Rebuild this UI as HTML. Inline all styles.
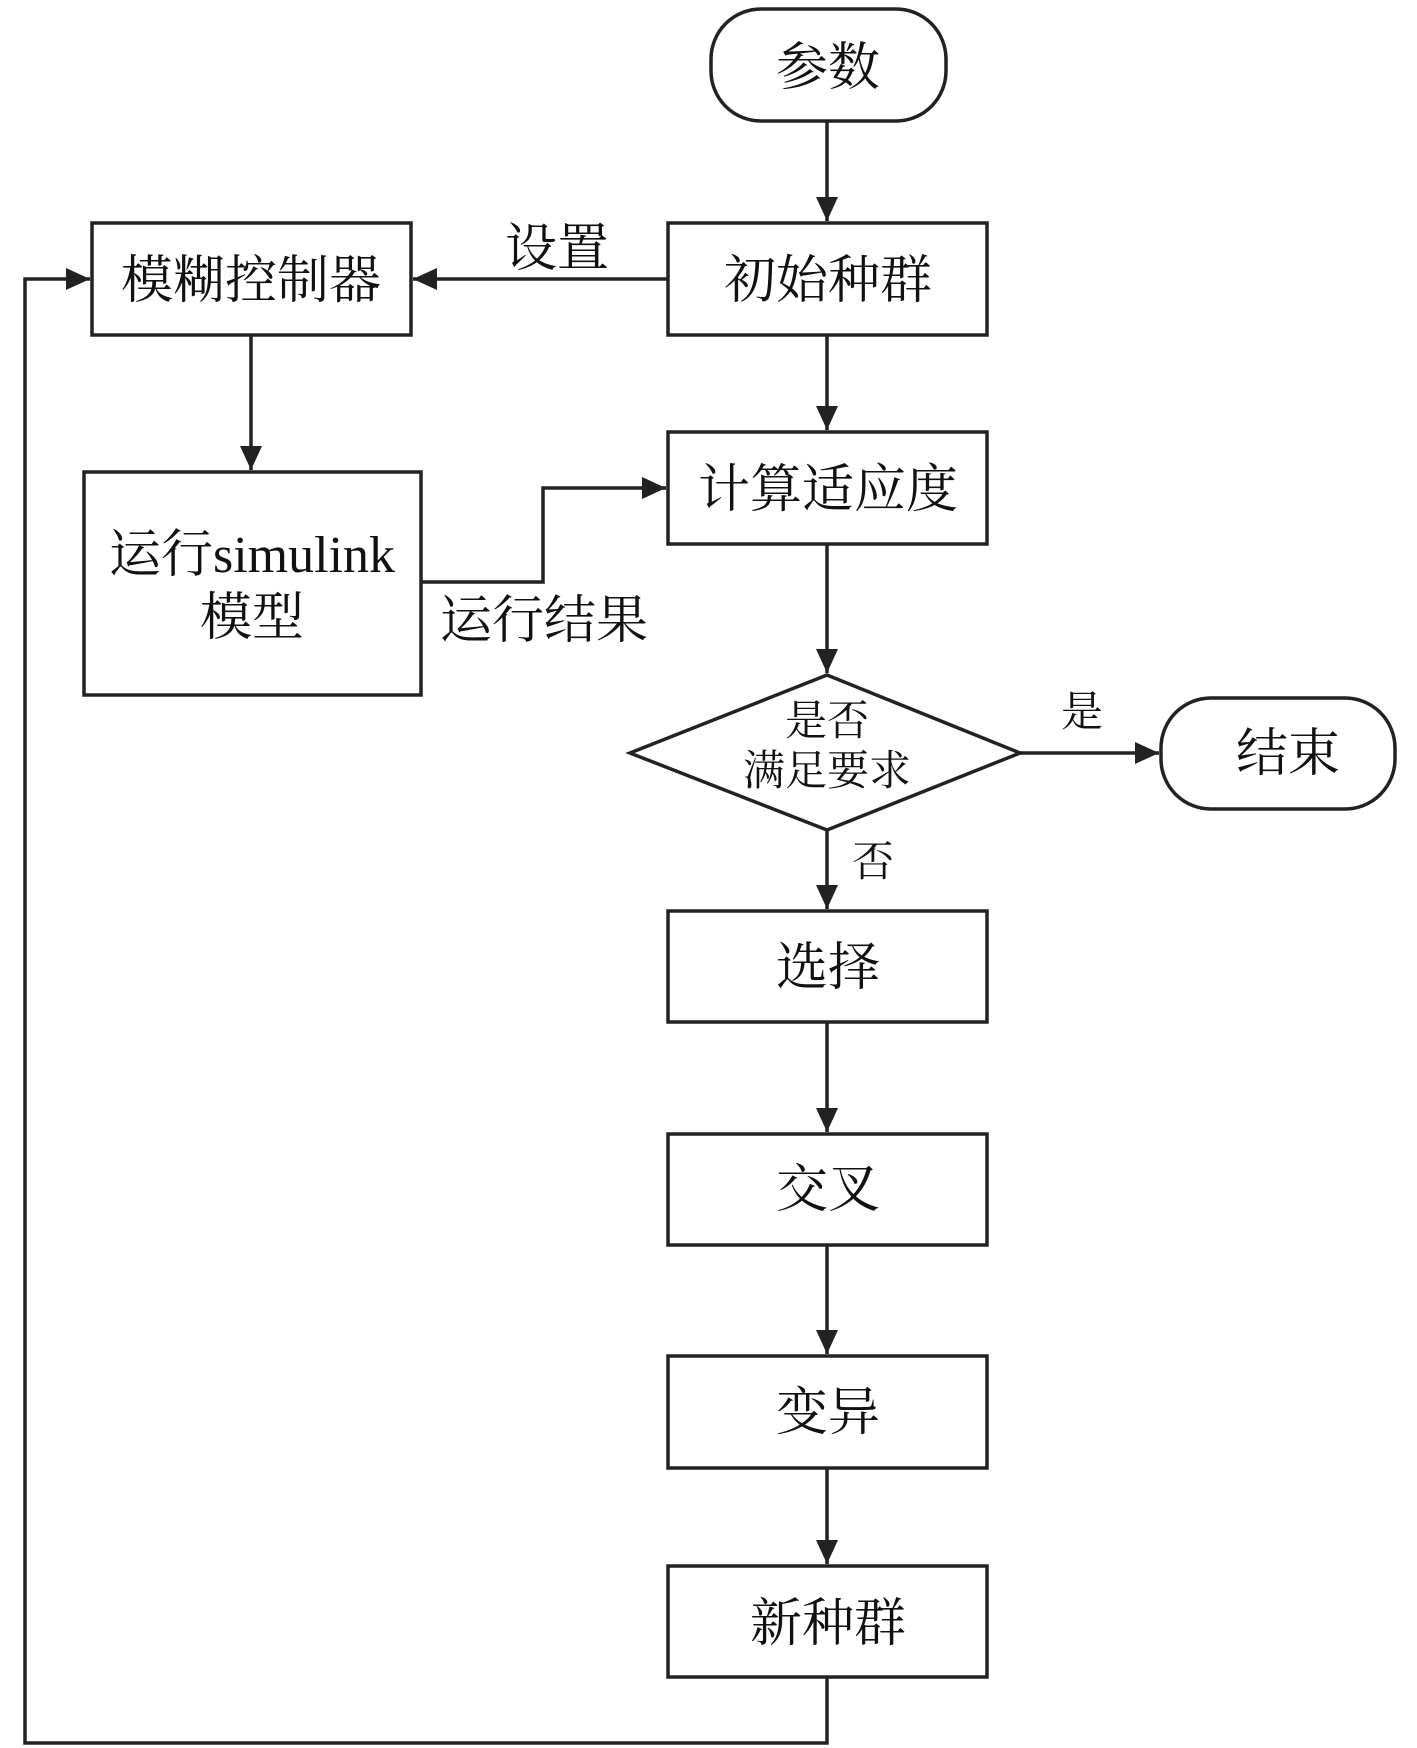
<!DOCTYPE html>
<html><head><meta charset="utf-8"><style>
html,body{margin:0;padding:0;background:#fff;}
svg{display:block;}
text{font-family:"Liberation Serif","Noto Serif CJK SC",serif;fill:#111;}
</style></head><body>
<svg width="1417" height="1748" viewBox="0 0 1417 1748" xmlns="http://www.w3.org/2000/svg">
<defs><marker id="a" markerWidth="10" markerHeight="10" refX="9" refY="5" orient="auto" markerUnits="userSpaceOnUse" viewBox="0 0 10 10"><path d="M0,0 L10,5 L0,10 z" fill="#222"/></marker>
<marker id="b" markerWidth="24" markerHeight="30" refX="24" refY="15" orient="auto" markerUnits="userSpaceOnUse" viewBox="0 0 24 30"><path d="M0,4 L24,15 L0,26 z" fill="#222"/></marker></defs>
<g stroke="#222" stroke-width="3.5" fill="none">
<rect x="711" y="9" width="235" height="112" rx="50"/>
<rect x="668" y="223" width="319" height="112"/>
<rect x="92" y="223" width="319" height="112"/>
<rect x="84" y="472" width="337" height="223"/>
<rect x="668" y="432" width="319" height="112"/>
<polygon points="630,753 827,675 1020,753 827,830"/>
<rect x="1161" y="698" width="234" height="111" rx="50"/>
<rect x="668" y="911" width="319" height="111"/>
<rect x="668" y="1134" width="319" height="111"/>
<rect x="668" y="1356" width="319" height="112"/>
<rect x="668" y="1566" width="319" height="111"/>
<g marker-end="url(#b)">
<line x1="827" y1="121" x2="827" y2="221"/>
<line x1="668" y1="279" x2="413" y2="279"/>
<line x1="827" y1="335" x2="827" y2="430"/>
<line x1="251" y1="335" x2="251" y2="470"/>
<polyline points="421,582 543,582 543,488 666,488"/>
<line x1="827" y1="544" x2="827" y2="673"/>
<line x1="1020" y1="753" x2="1159" y2="753"/>
<line x1="827" y1="830" x2="827" y2="909"/>
<line x1="827" y1="1022" x2="827" y2="1132"/>
<line x1="827" y1="1245" x2="827" y2="1354"/>
<line x1="827" y1="1468" x2="827" y2="1564"/>
<polyline points="827,1677 827,1743 25,1743 25,279 90,279"/>
</g>
</g>
<g font-size="52" text-anchor="middle">
<text x="828" y="85">参数</text>
<text x="828" y="298">初始种群</text>
<text x="251" y="298">模糊控制器</text>
<text x="252" y="572">运行simulink</text>
<text x="252" y="635">模型</text>
<text x="828" y="507">计算适应度</text>
<text x="1288" y="771">结束</text>
<text x="828" y="985">选择</text>
<text x="828" y="1207">交叉</text>
<text x="828" y="1430">变异</text>
<text x="828" y="1641">新种群</text>
<text x="557" y="266">设置</text>
<text x="544" y="638">运行结果</text>
</g>
<g font-size="42" text-anchor="middle">
<text x="827" y="735">是否</text>
<text x="827" y="785">满足要求</text>
<text x="1082" y="726">是</text>
<text x="873" y="876">否</text>
</g>
</svg>
</body></html>
